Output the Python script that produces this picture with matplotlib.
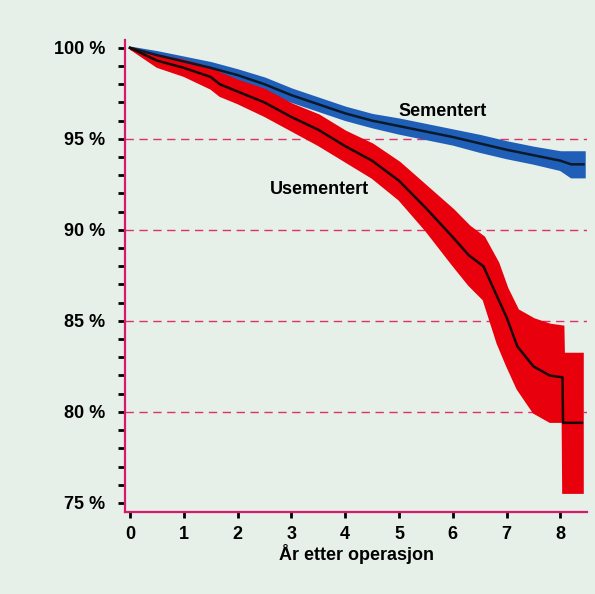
import numpy as np
import matplotlib.pyplot as plt

# Kaplan-Meier style survival
years_sem = [0, 0.5, 1.0, 1.5, 2.0, 2.5, 3.0, 3.5, 4.0, 4.5, 5.0, 5.5, 6.0, 6.5, 7.0, 7.5, 8.0, 8.2, 8.43]
surv_sem = [100, 99.6, 99.25, 98.9, 98.5, 98.0, 97.4, 96.9, 96.4, 96.0, 95.7, 95.4, 95.1, 94.75, 94.4, 94.1, 93.8, 93.6, 93.6]
low_sem = [100, 99.45, 99.05, 98.65, 98.25, 97.7, 97.1, 96.6, 96.1, 95.7, 95.35, 95.05, 94.75, 94.35, 94.0, 93.7, 93.35, 92.95, 92.95]
up_sem = [100, 99.75, 99.45, 99.15, 98.75, 98.3, 97.7, 97.2, 96.7, 96.3, 96.05, 95.75, 95.45, 95.15, 94.8, 94.5, 94.25, 94.25, 94.25]

years_usem = [0, 0.5, 1.0, 1.5, 1.67, 2.0, 2.5, 3.0, 3.5, 4.0, 4.5, 5.0, 5.5, 6.0, 6.3, 6.57,
              6.83, 7.0, 7.2, 7.5, 7.8, 8.04, 8.05, 8.4]
surv_usem = [100, 99.3, 98.9, 98.4, 98.0, 97.6, 97.0, 96.2, 95.5, 94.6, 93.8, 92.7, 91.2, 89.6, 88.6, 88.0,
             86.3, 85.2, 83.6, 82.5, 82.0, 81.9, 79.4, 79.4]
low_usem = [100, 99.0, 98.5, 97.8, 97.4, 97.0, 96.3, 95.5, 94.7, 93.8, 92.9, 91.7, 90.0, 88.1, 87.0, 86.2,
            83.8, 82.6, 81.3, 80.0, 79.5, 79.5, 75.6, 75.6]
up_usem = [100, 99.6, 99.3, 98.9, 98.6, 98.2, 97.7, 96.9, 96.3, 95.4, 94.7, 93.7, 92.4, 91.1, 90.2, 89.6,
           88.2, 86.8, 85.6, 85.1, 84.8, 84.7, 83.2, 83.2]

y_ticks = [75, 80, 85, 90, 95, 100]
y_ticklabels = ['75 %', '80 %', '85 %', '90 %', '95 %', '100 %']
x_ticks = [0, 1, 2, 3, 4, 5, 6, 7, 8]

plt.rcParams['font.family'] = ['Liberation Sans', 'DejaVu Sans']

bg = '#e6efe8'
spine_col = '#d6186e'
blue = '#1f5fb8'
red = '#e8000c'

fig = plt.figure(figsize=(5.95, 5.94), dpi=100, facecolor=bg)
ax = fig.add_axes([0.21, 0.138, 0.777, 0.795], facecolor=bg)

# confidence bands (edge line gives them the thicker look of the print)
ax.fill_between(years_sem, low_sem, up_sem, facecolor=blue, edgecolor=blue, lw=2.5,
                joinstyle='miter', zorder=2)
ax.fill_between(years_usem, low_usem, up_usem, facecolor=red, edgecolor=red, lw=2.0,
                joinstyle='miter', zorder=2)
# survival lines
ax.plot(years_sem, surv_sem, color='#0a1a2a', lw=1.8, zorder=3)
ax.plot(years_usem, surv_usem, color='#1a0505', lw=1.8, zorder=3)

ax.text(5.82, 96.5, 'Sementert', fontsize=13, fontweight='bold', ha='center', va='center', zorder=4)
ax.text(3.53, 92.2, 'Usementert', fontsize=13, fontweight='bold', ha='center', va='center', zorder=4)

# dashed reference lines
for yv in [80, 85, 90, 95]:
    ax.axhline(yv, color='#e0306a', lw=1.0, ls=(0, (6, 4)), zorder=1)

ax.set_xlim(-0.093, 8.5)
ax.set_ylim(74.5, 100.44)
ax.set_yticks(y_ticks)
ax.set_yticklabels(y_ticklabels)
ax.set_yticks(np.arange(75, 101, 1), minor=True)
ax.set_xticks(x_ticks)

ax.tick_params(axis='y', which='both', direction='out', length=5, width=2, color='black',
               labelsize=13, pad=9)
ax.tick_params(axis='x', which='both', direction='out', length=4, width=2, color='black',
               labelsize=13, pad=6)
for lab in ax.get_xticklabels() + ax.get_yticklabels():
    lab.set_fontweight('bold')

ax.set_xlabel('År etter operasjon', fontsize=13, fontweight='bold', labelpad=1)

for side in ['top', 'right']:
    ax.spines[side].set_visible(False)
for side in ['left', 'bottom']:
    ax.spines[side].set_color(spine_col)
    ax.spines[side].set_linewidth(1.6)

fig.savefig('out.png', dpi=100, facecolor=bg)
